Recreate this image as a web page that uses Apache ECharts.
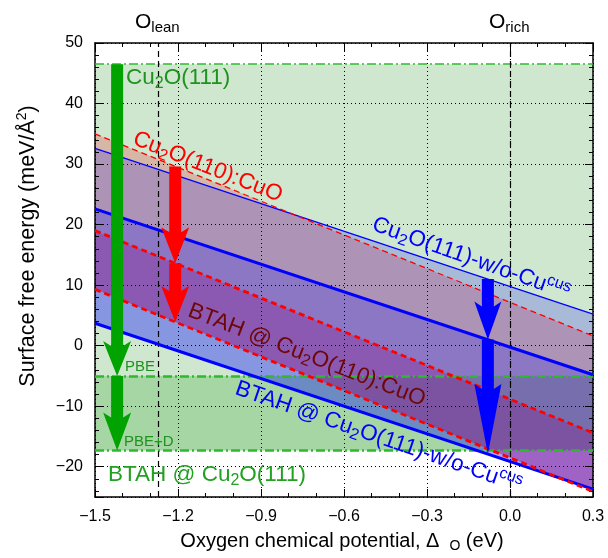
<!DOCTYPE html>
<html><head><meta charset="utf-8">
<script src="https://cdn.jsdelivr.net/npm/echarts@6/dist/echarts.min.js"></script>
<style>html,body{margin:0;padding:0;background:#fff}#c{width:608px;height:558px}</style>
</head><body><div id="c"></div>
<script>
// ---- data ----
const xEnds = [-1.5, 0.3];                 // x extent of the sloped lines (eV)
const redClean = [35.0, 1.6];              // Cu2O(110):CuO
const redPBE = [19.0, -14.4];              // BTAH @ Cu2O(110):CuO, PBE
const redPBED = [9.3, -24.1];              // BTAH @ Cu2O(110):CuO, PBE+D
const blueClean = [32.6, 5.2];             // Cu2O(111)-w/o-Cu^cus
const bluePBE = [22.6, -4.8];              // BTAH @ Cu2O(111)-w/o-Cu^cus, PBE
const bluePBED = [3.7, -23.7];             // BTAH @ Cu2O(111)-w/o-Cu^cus, PBE+D
const greenLevels = [46.5, -5.0, -17.3];   // Cu2O(111), BTAH PBE, BTAH PBE+D
const oLimits = [-1.27, 0.0];              // O-lean, O-rich
const arrowX = [-1.42, -1.42, -1.21, -1.21, -0.08, -0.08];
const arrowFrom = [46.5, -5.0, 29.6, 13.6, 11.0, 1.0];
const arrowTo = [-5.0, -17.3, 13.6, 3.9, 1.0, -17.9];

// ---- styles ----
const FF = 'Liberation Sans, Arial, Helvetica, sans-serif';
const arrowStyle = [
  {c:'#00a300', shaft:12, head:28, len:35, notch:5},
  {c:'#00a300', shaft:12, head:28, len:38, notch:5},
  {c:'#ff0000', shaft:12, head:28, len:36, notch:5},
  {c:'#ff0000', shaft:12, head:28, len:36, notch:5},
  {c:'#0000ff', shaft:12, head:27, len:38, notch:5},
  {c:'#0000ff', shaft:12, head:27, len:70, notch:5}
];

function band(top, bot, color, z) {
  return {
    type:'custom', silent:true, z:z, data:[[xEnds[0], top[0]]],
    renderItem:function(params, api){
      const pts = [api.coord([xEnds[0], top[0]]), api.coord([xEnds[1], top[1]]),
                   api.coord([xEnds[1], bot[1]]), api.coord([xEnds[0], bot[0]])];
      return {type:'polygon', shape:{points:pts}, style:{fill:color}};
    }
  };
}
function line(vals, color, width, dashed) {
  return {
    type:'line', silent:true, z:5, showSymbol:false, symbol:'none',
    data:[[xEnds[0], vals[0]], [xEnds[1], vals[1]]],
    lineStyle:{color:color, width:width, type: dashed ? [6,4] : 'solid'}
  };
}
const fmt = v => (v < 0 ? '\u2212' : '') + Math.abs(v);
const fmtX = v => (v < -1e-9 ? '\u2212' : '') + Math.abs(v).toFixed(1);

const axisCommon = {
  axisLine:{show:true, onZero:false, lineStyle:{color:'#000', width:1.5}},
  axisTick:{show:true, inside:true, length:8, lineStyle:{color:'#000', width:1}},
  minorTick:{show:true, length:4, lineStyle:{color:'#000', width:1}},
  z:4
};

const option = {
  animation:false,
  backgroundColor:'#fff',
  grid:{left:95, right:15, top:43, bottom:61},
  xAxis:[
    Object.assign({}, axisCommon, {
      type:'value', min:-1.5, max:0.3, interval:0.3, position:'bottom',
      minorTick:Object.assign({}, axisCommon.minorTick, {splitNumber:3}),
      axisLabel:{formatter:fmtX, fontSize:16, color:'#000', fontFamily:FF, margin:12},
      splitLine:{show:true, lineStyle:{color:'#000', width:1, type:[1,3]}}
    }),
    Object.assign({}, axisCommon, {
      type:'value', min:-1.5, max:0.3, interval:0.3, position:'top',
      minorTick:Object.assign({}, axisCommon.minorTick, {splitNumber:3}),
      axisLabel:{show:false}, splitLine:{show:false}
    })
  ],
  yAxis:[
    Object.assign({}, axisCommon, {
      type:'value', min:-25, max:50, splitNumber:8, position:'left',
      minorTick:Object.assign({}, axisCommon.minorTick, {splitNumber:5}),
      axisLabel:{formatter:fmt, fontSize:16, color:'#000', fontFamily:FF, margin:12, showMinLabel:false},
      splitLine:{show:true, lineStyle:{color:'#000', width:1, type:[1,3]}}
    }),
    Object.assign({}, axisCommon, {
      type:'value', min:-25, max:50, splitNumber:8, position:'right',
      minorTick:Object.assign({}, axisCommon.minorTick, {splitNumber:5}),
      axisLabel:{show:false}, splitLine:{show:false}
    })
  ],
  series:[
    { // green reference bands
      type:'line', data:[], z:1, silent:true,
      markArea:{silent:true, itemStyle:{opacity:1}, data:[
        [{yAxis:greenLevels[0], itemStyle:{color:'#cfe6cf'}}, {yAxis:greenLevels[1]}],
        [{yAxis:greenLevels[1], itemStyle:{color:'#a6d6a3'}}, {yAxis:greenLevels[2]}]
      ]}
    },
    band(redClean, redPBE, 'rgba(240,10,10,0.21)', 2),
    band(redPBE, redPBED, 'rgba(226,10,40,0.42)', 2),
    band(blueClean, bluePBE, 'rgba(0,0,255,0.19)', 3),
    band(bluePBE, bluePBED, 'rgba(0,0,255,0.35)', 3),
    { // green dash-dot reference lines and O-lean / O-rich dashed verticals
      type:'line', data:[], z:4, silent:true,
      markLine:{silent:true, symbol:['none','none'], label:{show:false}, animation:false, data:[
        {yAxis:greenLevels[0], lineStyle:{color:'#2dbb2d', width:1.5, type:[9,3,2,3]}},
        {yAxis:greenLevels[1], lineStyle:{color:'#2dbb2d', width:2.5, type:[9,3,2,3]}},
        {yAxis:greenLevels[2], lineStyle:{color:'#2dbb2d', width:2.5, type:[9,3,2,3]}},
        {xAxis:oLimits[0], lineStyle:{color:'#000', width:1.2, type:[6,4]}},
        {xAxis:oLimits[1], lineStyle:{color:'#000', width:1.2, type:[6,4]}}
      ]}
    },
    line(blueClean, '#0000ff', 1.3, false),
    line(redClean, '#ff0000', 1.3, true),
    line(bluePBE, '#0000ff', 3, false),
    line(bluePBED, '#0000ff', 3, false),
    line(redPBE, '#ff0000', 2.8, true),
    line(redPBED, '#ff0000', 2.8, true),
    {
      type:'custom', silent:true, z:7,
      data:arrowX.map((x,i)=>[x, arrowFrom[i], arrowTo[i]]),
      renderItem:function(params, api){
        const s = arrowStyle[params.dataIndex];
        const a = api.coord([api.value(0), api.value(1)]);
        const b = api.coord([api.value(0), api.value(2)]);
        const cx = a[0], sy = a[1], ty = b[1];
        const hs = s.shaft/2, hw = s.head/2;
        const pts = [[cx-hs, sy],[cx-hs, ty-s.len+s.notch],[cx-hw, ty-s.len],[cx, ty],
                     [cx+hw, ty-s.len],[cx+hs, ty-s.len+s.notch],[cx+hs, sy]];
        return {type:'polygon', shape:{points:pts}, style:{fill:s.c}};
      }
    }
  ],
  graphic:[]
};

function rt(size, sub) {
  return {
    a:{fontSize:size, fontFamily:FF, lineHeight:size+5},
    s:{fontSize:sub, fontFamily:FF, lineHeight:8, verticalAlign:'bottom'},
    p:{fontSize:sub, fontFamily:FF, lineHeight:8, verticalAlign:'top'},
    g:{width:10, fontSize:size, fontFamily:FF, lineHeight:size+5},
    b:{fontSize:size, fontFamily:FF}
  };
}
function label(x, y, deg, text, color, size, sub, align) {
  return {
    type:'text', x:x, y:y, rotation:-deg*Math.PI/180, z:100, silent:true,
    style:{text:text, rich:rt(size, sub), fill:color, fontFamily:FF, fontSize:size,
           align:align||'left', textAlign:align||'left', verticalAlign:'middle', textVerticalAlign:'middle'}
  };
}
option.graphic = [
  label(126, 78, 0, '{a|Cu}{s|2}{a|O(111)}', '#1f921f', 22.5, 16),
  label(134, 138, 21.5, '{a|Cu}{s|2}{a|O(110):CuO}', '#ff0000', 22.5, 16),
  label(373, 224, 19.5, '{a|Cu}{s|2}{a|O(111)-w/o-Cu}{p|cus}', '#0000ff', 22.5, 16),
  label(189, 310, 21, '{a|BTAH @ Cu}{s|2}{a|O(110):CuO}', '#6e0808', 22.5, 16),
  label(236, 388, 19, '{a|BTAH @ Cu}{s|2}{a|O(111)-w/o-Cu}{p|cus}', '#0000ff', 22.5, 16),
  label(125, 367, 0, '{b|PBE}', '#1f921f', 15, 15),
  label(124, 442, 0, '{b|PBE+D}', '#1f921f', 15, 15),
  label(108, 475, 0, '{a|BTAH @ Cu}{s|2}{a|O(111)}', '#22a022', 22.5, 16),
  label(135, 22, 0, '{a|O}{s|lean}', '#000', 21, 15),
  label(489, 22, 0, '{a|O}{s|rich}', '#000', 21, 15),
  label(342, 541, 0, '{a|Oxygen chemical potential, \u0394}{g|}{s|O}{a| (eV)}', '#000', 20, 14, 'center'),
  Object.assign(label(28, 246, -90, '{a|Surface free energy (meV/\u00c5}{p|2}{a|)}', '#000', 21.5, 14, 'center'), {rotation:Math.PI/2})
];

const chart = echarts.init(document.getElementById('c'), null, {renderer:'canvas'});
chart.setOption(option);
</script></body></html>
